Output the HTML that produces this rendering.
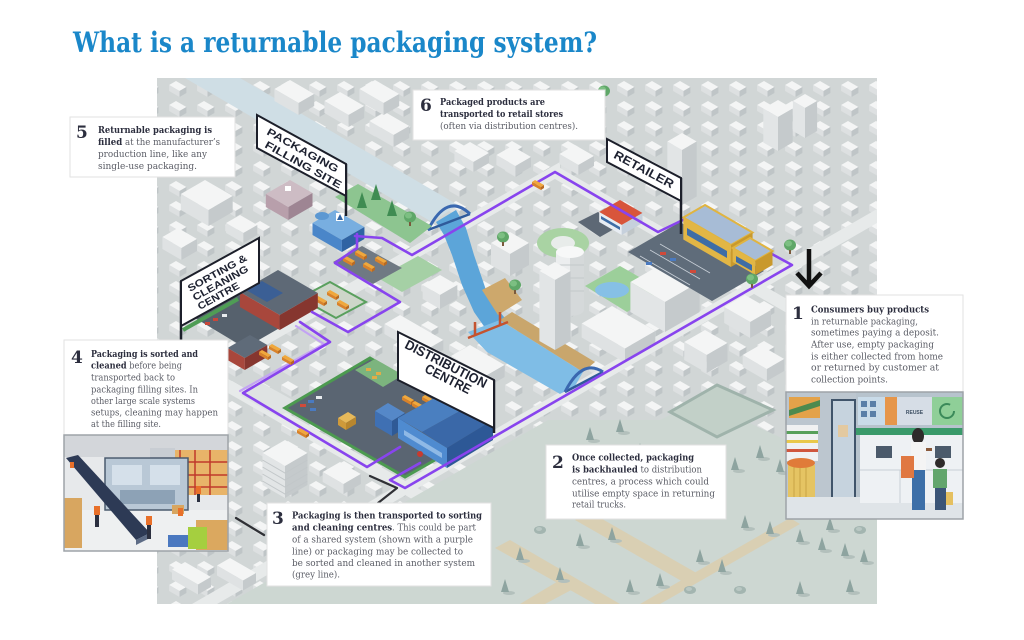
<!DOCTYPE html>
<html><head><meta charset="utf-8">
<style>
html,body{margin:0;padding:0;background:#fff;width:1024px;height:640px;overflow:hidden}
svg{display:block}
.t{font-family:"DejaVu Serif","Liberation Serif",serif;font-size:9.4px;fill:#5b5d66}
.b{font-weight:bold;fill:#2c2e3e}
.n{font-family:"DejaVu Serif","Liberation Serif",serif;font-weight:bold;font-size:17px;fill:#2c2e3e}
.s{font-family:"Liberation Sans","DejaVu Sans",sans-serif;font-weight:bold;fill:#1d2130}
</style></head><body>
<svg width="1024" height="640" viewBox="0 0 1024 640" xmlns="http://www.w3.org/2000/svg">
<defs>
 <pattern id="ph" width="28" height="20" patternUnits="userSpaceOnUse">
  <rect width="28" height="20" fill="#d1d6d6"/>
  <polygon points="8,1 18.4,7 11.5,11 1.1,5" fill="#f4f5f5"/>
  <polygon points="1.1,5 11.5,11 11.5,17 1.1,11" fill="#dde0e1"/>
  <polygon points="11.5,11 18.4,7 18.4,13 11.5,17" fill="#bfc5c7"/>
 </pattern>
 <clipPath id="mc"><rect x="157" y="78" width="720" height="526"/></clipPath>
 <g id="ct"><ellipse cx="4" cy="1" rx="6" ry="2" fill="#b3c0bc"/><polygon points="0,-13 4,0 -4,0" fill="#8ea4a0"/></g>
 <g id="rb"><ellipse cx="0" cy="0" rx="6" ry="4" fill="#a3b5b0"/><ellipse cx="-1" cy="-1" rx="3" ry="2" fill="#b9c8c3"/></g>
 <g id="gt"><ellipse cx="0" cy="-5" rx="6" ry="5.5" fill="#5fa768"/><ellipse cx="-1.5" cy="-6.5" rx="3.5" ry="3" fill="#7cbf82"/><rect x="-1" y="0" width="2" height="4" fill="#7a5a3c"/></g>
 <g id="gc"><polygon points="0,-16 5,0 -5,0" fill="#3f8c52"/></g>
 <g id="tk"><polygon points="0,0 9,5 6,7 -3,2" fill="#f0a83c"/><polygon points="-3,2 6,7 6,10 -3,5" fill="#d9822a"/><polygon points="6,7 9,5 9,8 6,10" fill="#b86a22"/></g>
</defs>

<rect width="1024" height="640" fill="#fff"/>
<text x="73" y="52" font-family="'DejaVu Serif','Liberation Serif',serif" font-weight="bold" font-size="28" fill="#1a87c9" textLength="524" lengthAdjust="spacingAndGlyphs">What is a returnable packaging system?</text>

<g clip-path="url(#mc)">
 <rect x="157" y="78" width="720" height="526" fill="url(#ph)"/>
 <!-- roads -->
 <polygon points="157,394 560,162 560,176 157,408" fill="#e7eaea"/>
 <polygon points="192,604 877,209 877,223 217,604" fill="#e7eaea"/>
 <polygon points="157,338 619,604 594,604 157,352" fill="#e7eaea"/>
 <polygon points="555,165 877,351 877,365 555,179" fill="#e7eaea"/>
 <!-- canal -->
 <polygon points="185,78 240,78 458,205 432,222" fill="#cfdee5"/>
 <!-- park lower right -->
 <polygon points="227,604 548,420 660,420 700,400 786,440 877,519 877,604" fill="#cdd7d2"/>
 <polygon points="495,548 510,540 620,604 595,604" fill="#d9cfb3"/>
 <polygon points="575,520 590,512 700,575 685,583" fill="#d9cfb3"/>
 <polygon points="640,604 790,518 800,524 660,604" fill="#d9cfb3"/>
 <polygon points="520,604 560,580 575,588 545,604" fill="#d9cfb3"/>
 <polygon points="717,385 773,410 717,437 670,412" fill="#c2d0c8" stroke="#9fb3ab" stroke-width="3"/>
 <!-- top-left blocks -->
 <polygon points="205,180 232.7,196 208.5,210 180.8,194" fill="#f4f5f5"/><polygon points="180.8,194 208.5,210 208.5,226 180.8,210" fill="#dfe2e3"/><polygon points="208.5,210 232.7,196 232.7,212 208.5,226" fill="#c5cacc"/>
 <polygon points="178,228 197,239 181.4,248 162.4,237" fill="#f4f5f5"/><polygon points="162.4,237 181.4,248 181.4,260 162.4,249" fill="#dfe2e3"/><polygon points="181.4,248 197,239 197,251 181.4,260" fill="#c5cacc"/>
 <polygon points="240,215 257.3,225 243.4,233 226.1,223" fill="#f4f5f5"/><polygon points="226.1,223 243.4,233 243.4,243 226.1,233" fill="#dfe2e3"/><polygon points="243.4,233 257.3,225 257.3,235 243.4,243" fill="#c5cacc"/>
 <!-- above canal -->
 <polygon points="290,80 314.2,94 298.6,103 274.4,89" fill="#f4f5f5"/><polygon points="274.4,89 298.6,103 298.6,115 274.4,101" fill="#dfe2e3"/><polygon points="298.6,103 314.2,94 314.2,106 298.6,115" fill="#c5cacc"/>
 <polygon points="340,92 364.2,106 348.6,115 324.4,101" fill="#f4f5f5"/><polygon points="324.4,101 348.6,115 348.6,127 324.4,113" fill="#dfe2e3"/><polygon points="348.6,115 364.2,106 364.2,118 348.6,127" fill="#c5cacc"/>
 <polygon points="385,112 409.2,126 393.6,135 369.4,121" fill="#f4f5f5"/><polygon points="369.4,121 393.6,135 393.6,147 369.4,133" fill="#dfe2e3"/><polygon points="393.6,135 409.2,126 409.2,138 393.6,147" fill="#c5cacc"/>
 <polygon points="375,80 399.2,94 383.6,103 359.4,89" fill="#f4f5f5"/><polygon points="359.4,89 383.6,103 383.6,115 359.4,101" fill="#dfe2e3"/><polygon points="383.6,103 399.2,94 399.2,106 383.6,115" fill="#c5cacc"/>
 <!-- below box 6 -->
 <polygon points="470,142 489,153 473.4,162 454.4,151" fill="#f4f5f5"/><polygon points="454.4,151 473.4,162 473.4,172 454.4,161" fill="#dfe2e3"/><polygon points="473.4,162 489,153 489,163 473.4,172" fill="#c5cacc"/>
 <polygon points="512,146 531,157 515.4,166 496.4,155" fill="#f4f5f5"/><polygon points="496.4,155 515.4,166 515.4,176 496.4,165" fill="#dfe2e3"/><polygon points="515.4,166 531,157 531,167 515.4,176" fill="#c5cacc"/>
 <polygon points="575,145 594,156 578.4,165 559.4,154" fill="#f4f5f5"/><polygon points="559.4,154 578.4,165 578.4,175 559.4,164" fill="#dfe2e3"/><polygon points="578.4,165 594,156 594,166 578.4,175" fill="#c5cacc"/>
 <!-- top right towers -->
 <polygon points="778,100 792.7,108.5 778,117 763.3,108.5" fill="#f4f5f5"/><polygon points="763.3,108.5 778,117 778,151 763.3,142.5" fill="#e2e5e6"/><polygon points="778,117 792.7,108.5 792.7,142.5 778,151" fill="#c5cacc"/>
 <polygon points="805,94 817.1,101 805,108 792.9,101" fill="#f4f5f5"/><polygon points="792.9,101 805,108 805,138 792.9,131" fill="#e2e5e6"/><polygon points="805,108 817.1,101 817.1,131 805,138" fill="#c5cacc"/>
 <polygon points="682,133 696.7,141.5 682,150 667.3,141.5" fill="#f4f5f5"/><polygon points="667.3,141.5 682,150 682,205 667.3,196.5" fill="#e2e5e6"/><polygon points="682,150 696.7,141.5 696.7,196.5 682,205" fill="#c5cacc"/>
 <!-- right middle blocks -->
 <polygon points="745,295 771,310 750.2,322 724.2,307" fill="#f4f5f5"/><polygon points="724.2,307 750.2,322 750.2,338 724.2,323" fill="#dfe2e3"/><polygon points="750.2,322 771,310 771,326 750.2,338" fill="#c5cacc"/>
 <polygon points="705,330 727.5,343 706.7,355 684.2,342" fill="#f4f5f5"/><polygon points="684.2,342 706.7,355 706.7,373 684.2,360" fill="#dfe2e3"/><polygon points="706.7,355 727.5,343 727.5,361 706.7,373" fill="#c5cacc"/>
 <polygon points="760,345 784.2,359 766.9,369 742.7,355" fill="#f4f5f5"/><polygon points="742.7,355 766.9,369 766.9,381 742.7,367" fill="#dfe2e3"/><polygon points="766.9,369 784.2,359 784.2,371 766.9,381" fill="#c5cacc"/>

 <!-- river & water -->
 <polygon points="436,222 456,210 466,228 474,255 486,290 500,312 508,322 488,332 474,312 462,285 452,255 444,235" fill="#5ca5d9"/>
 <polygon points="468,332 500,320 583,372 575,386 560,394 487,352" fill="#7fbde6"/>
 <polygon points="500,320 512,312 595,362 583,372" fill="#c9a66c"/>
 <polygon points="482,290 505,278 522,300 498,315" fill="#cda86c"/>

 <!-- central city -->
 <ellipse cx="563" cy="243" rx="26" ry="15" fill="#a9d3a3"/>
 <ellipse cx="563" cy="243" rx="12" ry="7" fill="#e8ecea"/>
 <polygon points="585,286 620,266 662,290 627,312" fill="#9ccf9a"/>
 <ellipse cx="612" cy="290" rx="17" ry="8" fill="#86c0e6"/>
 <polygon points="510,232 529,243 510,254 491,243" fill="#f4f5f5"/><polygon points="491,243 510,254 510,276 491,265" fill="#dfe2e3"/><polygon points="510,254 529,243 529,265 510,276" fill="#c5cacc"/>
 <polygon points="440,275 457.3,285 440,295 422.7,285" fill="#f4f5f5"/><polygon points="422.7,285 440,295 440,309 422.7,299" fill="#dfe2e3"/><polygon points="440,295 457.3,285 457.3,299 440,309" fill="#c5cacc"/>
 <rect x="556" y="252" width="28" height="58" fill="#eceeef"/>
 <rect x="570" y="252" width="14" height="58" fill="#d5d9da"/>
 <ellipse cx="570" cy="252" rx="14" ry="6" fill="#f7f8f8"/>
 <ellipse cx="570" cy="310" rx="14" ry="6" fill="#d5d9da"/>
 <g stroke="#c4c9cb" stroke-width="1"><line x1="556" y1="265" x2="584" y2="265"/><line x1="556" y1="278" x2="584" y2="278"/><line x1="556" y1="291" x2="584" y2="291"/></g>
 <polygon points="555,262 570.6,271 555,280 539.4,271" fill="#f4f5f5"/><polygon points="539.4,271 555,280 555,350 539.4,341" fill="#e2e5e6"/><polygon points="555,280 570.6,271 570.6,341 555,350" fill="#c5cacc"/>
 <polygon points="665,262 699.6,282 665,302 630.4,282" fill="#f4f5f5"/><polygon points="630.4,282 665,302 665,332 630.4,312" fill="#e2e5e6"/><polygon points="665,302 699.6,282 699.6,312 665,332" fill="#c5cacc"/>
 <polygon points="612,306 655.3,331 625,348.5 581.7,323.5" fill="#f4f5f5"/><polygon points="581.7,323.5 625,348.5 625,362.5 581.7,337.5" fill="#dfe2e3"/><polygon points="625,348.5 655.3,331 655.3,345 625,362.5" fill="#c5cacc"/>
 <polygon points="400,315 443.3,340 427.7,349 384.4,324" fill="#f4f5f5"/><polygon points="384.4,324 427.7,349 427.7,359 384.4,334" fill="#dfe2e3"/><polygon points="427.7,349 443.3,340 443.3,350 427.7,359" fill="#c5cacc"/>
 <polygon points="470,345 504.6,365 485.6,376 451,356" fill="#f4f5f5"/><polygon points="451,356 485.6,376 485.6,388 451,368" fill="#dfe2e3"/><polygon points="485.6,376 504.6,365 504.6,377 485.6,388" fill="#c5cacc"/>
 <!-- bridges -->
 <path d="M428,230 L470,214" stroke="#2f5a9a" stroke-width="2.5"/>
 <path d="M428,230 Q447,192 470,214" stroke="#3a68b0" stroke-width="3" fill="none"/>
 <path d="M565,392 L603,372" stroke="#2f5a9a" stroke-width="2.5"/>
 <path d="M565,392 Q582,358 603,372" stroke="#3a68b0" stroke-width="3" fill="none"/>
 <path d="M468,338 L508,322 M475,335 V322 M500,325 V312" stroke="#c4532f" stroke-width="2.5" fill="none"/>

 <!-- filling site -->
 <polygon points="335,197 358,184 432,226 410,243" fill="#8dc590"/>
 <polygon points="378,278 418,256 442,270 402,292" fill="#a5d0a5"/>
 <polygon points="290,180 312.5,193 288.3,207 265.8,194" fill="#cdbcc4"/><polygon points="265.8,194 288.3,207 288.3,220 265.8,207" fill="#b89fab"/><polygon points="288.3,207 312.5,193 312.5,206 288.3,220" fill="#9e8593"/>
 <rect x="285" y="186" width="6" height="5" fill="#fff"/>
 <polygon points="333,262 362,246 402,268 373,284" fill="#6f7983"/>
 <use href="#tk" x="346" y="256"/><use href="#tk" x="358" y="250"/><use href="#tk" x="366" y="262"/><use href="#tk" x="378" y="256"/>
 <polygon points="335,210 364.4,227 341.9,240 312.5,223" fill="#78aee0"/><polygon points="312.5,223 341.9,240 341.9,252 312.5,235" fill="#4a86c9"/><polygon points="341.9,240 364.4,227 364.4,239 341.9,252" fill="#2f63a3"/>
 <ellipse cx="322" cy="216" rx="7" ry="4" fill="#5c98d2"/>
 <rect x="336" y="213" width="8" height="8" fill="#fff"/><polygon points="340,214 343,220 337,220" fill="#2f63a3"/>
 <use href="#gc" x="362" y="208"/><use href="#gc" x="376" y="200"/><use href="#gc" x="392" y="216"/><use href="#gt" x="410" y="222"/>

 <!-- sorting centre -->
 <polygon points="195,318 240,293 290,322 245,348" fill="#56616d"/>
 <line x1="183" y1="330" x2="238" y2="299" stroke="#4f9d55" stroke-width="4"/>
 <g fill="#c8473a"><rect x="205" y="322" width="5" height="3"/><rect x="213" y="318" width="5" height="3"/></g>
 <rect x="222" y="314" width="5" height="3" fill="#e8ecef"/>
 <polygon points="300,298 330,282 366,302 336,318" fill="#cdd6c9" stroke="#5aa05e" stroke-width="2"/>
 <use href="#tk" x="318" y="296"/><use href="#tk" x="330" y="290"/><use href="#tk" x="340" y="300"/>
 <polygon points="278,270 317.8,293 279.7,315 239.9,292" fill="#5e6976"/>
 <polygon points="246,290 262,281 283,293 267,302" fill="#3b5f95"/>
 <polygon points="239.9,292 279.7,315 279.7,330 239.9,307" fill="#a8473c"/><polygon points="279.7,315 317.8,293 317.8,308 279.7,330" fill="#86362f"/>
 <polygon points="250,335 267.3,345 244.8,358 227.5,348" fill="#5f6b79"/><polygon points="227.5,348 244.8,358 244.8,370 227.5,360" fill="#a8473c"/><polygon points="244.8,358 267.3,345 267.3,357 244.8,370" fill="#86362f"/>
 <use href="#tk" x="262" y="350"/><use href="#tk" x="272" y="344"/>
 <polygon points="240,395 262,383 300,404 278,417" fill="#dfe3e3"/>

 <!-- distribution centre -->
 <polygon points="370,358 491,428 405,477 285,408" fill="#5a6572" stroke="#4c9a50" stroke-width="3"/>
 <polygon points="355,370 375,359 403,375 383,387" fill="#7cb47e"/>
 <g fill="#e0ad48"><rect x="366" y="368" width="5" height="3"/><rect x="376" y="372" width="5" height="3"/><rect x="372" y="376" width="5" height="3"/></g>
 <g><rect x="300" y="404" width="6" height="3" fill="#d04a3a"/><rect x="308" y="400" width="6" height="3" fill="#4a7ac0"/><rect x="316" y="396" width="6" height="3" fill="#e8ecef"/><rect x="310" y="408" width="6" height="3" fill="#4a7ac0"/></g>
 <polygon points="338,418 348,412 356,417 346,423" fill="#e7b95a"/><polygon points="338,418 346,423 346,430 338,425" fill="#cf9a3a"/><polygon points="346,423 356,417 356,424 346,430" fill="#b8862e"/>
 <use href="#tk" x="405" y="395"/><use href="#tk" x="415" y="401"/><use href="#tk" x="425" y="395"/><use href="#tk" x="432" y="405"/>
 <polygon points="388,403 405,413 392,421 375,411" fill="#5588c8"/><polygon points="375,411 392,421 392,436 375,426" fill="#3f70b3"/><polygon points="392,421 405,413 405,428 392,436" fill="#2f5a96"/>
 <polygon points="398,418 445,392 469,406 422,432" fill="#4a7fc0"/>
 <polygon points="422,432 469,406 493,420 447,448" fill="#3a68a8"/>
 <polygon points="398,418 447,448 447,468 398,438" fill="#4f8bd0"/>
 <polygon points="447,448 493,420 493,440 447,468" fill="#2d5896"/>
 <polygon points="404,430 442,453 442,458 404,435" fill="#8fb9e6"/>
 <circle cx="420" cy="454" r="3" fill="#c83a2e"/>

 <!-- white buildings lower left -->
 <polygon points="285,440 307.5,453 285,466 262.5,453" fill="#f4f5f5"/><polygon points="262.5,453 285,466 285,498 262.5,485" fill="#e2e5e6"/><polygon points="285,466 307.5,453 307.5,485 285,498" fill="#c5cacc"/>
 <g stroke="#c2c7c9" stroke-width="1"><path d="M262.5,460 L285,473 L307.5,460 M262.5,467 L285,480 L307.5,467 M262.5,474 L285,487 L307.5,474 M262.5,481 L285,494 L307.5,481" fill="none"/></g>
 <polygon points="340,462 360.8,474 343.5,484 322.7,472" fill="#f4f5f5"/><polygon points="322.7,472 343.5,484 343.5,494 322.7,482" fill="#dfe2e3"/><polygon points="343.5,484 360.8,474 360.8,484 343.5,494" fill="#c5cacc"/>
 <polygon points="230,558 256,573 243,580.5 217,565.5" fill="#f4f5f5"/><polygon points="217,565.5 243,580.5 243,590.5 217,575.5" fill="#dfe2e3"/><polygon points="243,580.5 256,573 256,583 243,590.5" fill="#c5cacc"/>
 <polygon points="185,562 211,577 198,584.5 172,569.5" fill="#f4f5f5"/><polygon points="172,569.5 198,584.5 198,594.5 172,579.5" fill="#dfe2e3"/><polygon points="198,584.5 211,577 211,587 198,594.5" fill="#c5cacc"/>

 <!-- retail -->
 <polygon points="578,222 598,212 621,225 600,237" fill="#5d6875"/>
 <polygon points="620,200 642.5,213 621.7,225 599.2,212" fill="#d8553b"/><polygon points="599.2,212 621.7,225 621.7,235 599.2,222" fill="#e8edf3"/><polygon points="621.7,225 642.5,213 642.5,223 621.7,235" fill="#c6d0dc"/>
 <polygon points="601,216 620,227 620,230 601,219" fill="#3e6da6"/>
 <polygon points="680,222 764,271 712,301 628,252" fill="#5f6c7a"/>
 <g stroke="#c9d0d8" stroke-width="0.8"><path d="M650,250 L700,279 M660,244 L710,273 M640,256 L690,285" fill="none"/></g>
 <g><rect x="660" y="252" width="6" height="3" fill="#d04a3a"/><rect x="670" y="258" width="6" height="3" fill="#4a7ac0"/><rect x="690" y="270" width="6" height="3" fill="#d04a3a"/><rect x="646" y="262" width="6" height="3" fill="#4a7ac0"/></g>

 <!-- route lines -->
 <g fill="none" stroke-linejoin="round" stroke-linecap="round">
  <path d="M296,326 L324,344 L240,391" stroke="#c3a3f3" stroke-width="2.2"/>
  <path d="M355,236 L382,238 L412,255 L555,172 L658,232 L687,218 L770,253 L792,265 L405,488 L390,480 L420,463" stroke="#8844ee" stroke-width="2.6"/>
  <path d="M357,234 L357,248 L335,263 L400,302 L348,332 L312,312" stroke="#8844ee" stroke-width="2.6"/>
  <path d="M300,322 L330,342 L243,393 L367,467 L400,447" stroke="#8844ee" stroke-width="2.6"/>
  <path d="M370,476 L397,488 L378,503" stroke="#2f3035" stroke-width="2.2"/>
  <path d="M236,518 L264,535" stroke="#2f3035" stroke-width="2.2"/>
 </g>
 <use href="#tk" x="535" y="180"/><use href="#tk" x="300" y="428"/><use href="#tk" x="285" y="355"/>

 <!-- yellow store over line -->
 <polygon points="705,205 752.6,232.5 730.9,245 683.3,217.5" fill="#a7bcd6" stroke="#e0b440" stroke-width="2"/>
 <polygon points="683.3,217.5 730.9,245 730.9,267 683.3,239.5" fill="#e2b645"/><polygon points="730.9,245 752.6,232.5 752.6,254.5 730.9,267" fill="#c9992c"/>
 <polygon points="687,228 727,251 727,258 687,235" fill="#3e6da6"/>
 <polygon points="750,238 772.5,251 755.2,261 732.7,248" fill="#a7bcd6" stroke="#e0b440" stroke-width="2"/>
 <polygon points="732.7,248 755.2,261 755.2,275 732.7,262" fill="#e2b645"/><polygon points="755.2,261 772.5,251 772.5,265 755.2,275" fill="#c9992c"/>
 <polygon points="736,256 752,265 752,271 736,262" fill="#3e6da6"/>
 <use href="#gt" x="790" y="250"/><use href="#gt" x="752" y="284"/><use href="#gt" x="503" y="242"/><use href="#gt" x="515" y="290"/><use href="#gt" x="604" y="96"/>

 <!-- park trees -->
 <use href="#ct" x="590" y="440"/><use href="#ct" x="620" y="432"/><use href="#ct" x="640" y="456"/><use href="#ct" x="735" y="470"/><use href="#ct" x="760" y="458"/><use href="#ct" x="780" y="472"/>
 <use href="#ct" x="745" y="528"/><use href="#ct" x="770" y="534"/><use href="#ct" x="800" y="542"/><use href="#ct" x="822" y="550"/><use href="#ct" x="845" y="556"/><use href="#ct" x="864" y="562"/>
 <use href="#ct" x="700" y="562"/><use href="#ct" x="722" y="572"/><use href="#ct" x="660" y="586"/><use href="#ct" x="630" y="592"/><use href="#ct" x="560" y="580"/><use href="#ct" x="520" y="560"/>
 <use href="#ct" x="505" y="592"/><use href="#ct" x="580" y="546"/><use href="#ct" x="612" y="540"/><use href="#ct" x="850" y="592"/><use href="#ct" x="800" y="594"/><use href="#ct" x="830" y="530"/>
 <use href="#rb" x="690" y="590"/><use href="#rb" x="740" y="590"/><use href="#rb" x="600" y="470"/><use href="#rb" x="660" y="475"/><use href="#rb" x="540" y="530"/><use href="#rb" x="860" y="530"/>

 <!-- signs -->
 <line x1="346" y1="164" x2="346" y2="216" stroke="#1c1f2a" stroke-width="2.5"/>
 <polygon points="257,115 346,164 346,196 257,148" fill="#fff" stroke="#1c1f2a" stroke-width="2"/>
 <text class="s" font-size="10.5" transform="translate(266,134) rotate(29)" textLength="80" lengthAdjust="spacingAndGlyphs">PACKAGING</text>
 <text class="s" font-size="10.5" transform="translate(264,147) rotate(29)" textLength="86" lengthAdjust="spacingAndGlyphs">FILLING SITE</text>

 <line x1="181" y1="281" x2="181" y2="340" stroke="#1c1f2a" stroke-width="2.5"/>
 <polygon points="181,281 259,238 259,283 181,326" fill="#fff" stroke="#1c1f2a" stroke-width="2"/>
 <text class="s" font-size="10" transform="translate(190,292) rotate(-29)" textLength="66" lengthAdjust="spacingAndGlyphs">SORTING &amp;</text>
 <text class="s" font-size="10" transform="translate(195,301) rotate(-29)" textLength="62" lengthAdjust="spacingAndGlyphs">CLEANING</text>
 <text class="s" font-size="10" transform="translate(200,310) rotate(-29)" textLength="46" lengthAdjust="spacingAndGlyphs">CENTRE</text>

 <line x1="681" y1="178" x2="681" y2="234" stroke="#1c1f2a" stroke-width="2.5"/>
 <polygon points="607,139 681,178 681,201 607,162" fill="#fff" stroke="#1c1f2a" stroke-width="2"/>
 <text class="s" font-size="12" text-anchor="middle" transform="translate(642,173) rotate(28)" textLength="66" lengthAdjust="spacingAndGlyphs">RETAILER</text>

 <line x1="494" y1="380" x2="494" y2="433" stroke="#1c1f2a" stroke-width="2.5"/>
 <polygon points="398,332 494,380 494,428 398,380" fill="#fff" stroke="#1c1f2a" stroke-width="2"/>
 <text class="s" font-size="13.5" text-anchor="middle" transform="translate(444,368) rotate(27)" textLength="90" lengthAdjust="spacingAndGlyphs">DISTRIBUTION</text>
 <text class="s" font-size="13.5" text-anchor="middle" transform="translate(446,383) rotate(27)" textLength="50" lengthAdjust="spacingAndGlyphs">CENTRE</text>
</g>

<!-- arrow -->
<path d="M809,249 V285 M797,273 L809,286 L821,273" stroke="#111" stroke-width="4.5" fill="none"/>

<!-- Box 5 -->
<rect x="70" y="117" width="165" height="60" fill="#fff" stroke="#e2e2e2"/>
<text class="n" x="76" y="138">5</text>
<text class="t b" x="98" y="133" textLength="114" lengthAdjust="spacingAndGlyphs">Returnable packaging is</text>
<text class="t" x="98" y="145" textLength="122" lengthAdjust="spacingAndGlyphs"><tspan class="b">filled</tspan> at the manufacturer’s</text>
<text class="t" x="98" y="157" textLength="109" lengthAdjust="spacingAndGlyphs">production line, like any</text>
<text class="t" x="98" y="169" textLength="99" lengthAdjust="spacingAndGlyphs">single-use packaging.</text>

<!-- Box 6 -->
<rect x="413" y="90" width="192" height="50" fill="#fff" stroke="#e2e2e2"/>
<text class="n" x="420" y="111">6</text>
<text class="t b" x="440" y="105" textLength="105" lengthAdjust="spacingAndGlyphs">Packaged products are</text>
<text class="t b" x="440" y="117" textLength="123" lengthAdjust="spacingAndGlyphs">transported to retail stores</text>
<text class="t" x="440" y="129" textLength="138" lengthAdjust="spacingAndGlyphs">(often via distribution centres).</text>

<!-- Box 4 -->
<rect x="64" y="340" width="164" height="211" fill="#fff" stroke="#e2e2e2"/>
<text class="n" x="71" y="363">4</text>
<text class="t b" x="91" y="357" textLength="107" lengthAdjust="spacingAndGlyphs">Packaging is sorted and</text>
<text class="t" x="91" y="368.5" textLength="91" lengthAdjust="spacingAndGlyphs"><tspan class="b">cleaned</tspan> before being</text>
<text class="t" x="91" y="380.5" textLength="84" lengthAdjust="spacingAndGlyphs">transported back to</text>
<text class="t" x="91" y="392.5" textLength="107" lengthAdjust="spacingAndGlyphs">packaging filling sites. In</text>
<text class="t" x="91" y="404" textLength="104" lengthAdjust="spacingAndGlyphs">other large scale systems</text>
<text class="t" x="91" y="415.5" textLength="127" lengthAdjust="spacingAndGlyphs">setups, cleaning may happen</text>
<text class="t" x="91" y="427" textLength="70" lengthAdjust="spacingAndGlyphs">at the filling site.</text>
<g>
 <rect x="64" y="435" width="164" height="116" fill="#e7e9eb"/>
 <rect x="64" y="435" width="164" height="22" fill="#d3d6da"/>
 <rect x="64" y="510" width="164" height="41" fill="#eef0f1"/>
 <rect x="168" y="450" width="60" height="45" fill="#e8b469"/>
 <g stroke="#c0392b" stroke-width="1.5"><path d="M168,462 H228 M168,475 H228 M168,487 H228 M180,450 V495 M195,450 V495 M210,450 V495" fill="none"/></g>
 <rect x="150" y="448" width="25" height="10" fill="#c8cdd3"/>
 <rect x="105" y="458" width="83" height="52" fill="#b9c8d6" stroke="#4a5a6e" stroke-width="1.5"/>
 <rect x="112" y="465" width="30" height="20" fill="#d5e0ea"/><rect x="150" y="465" width="30" height="20" fill="#d5e0ea"/>
 <rect x="120" y="490" width="55" height="14" fill="#8da2b6"/>
 <polygon points="66,458 78,455 150,533 136,540" fill="#2d3a55"/>
 <polygon points="136,540 150,533 150,538 136,545" fill="#5d6c86"/>
 <rect x="64" y="498" width="18" height="50" fill="#d8a660"/>
 <rect x="196" y="520" width="32" height="30" fill="#dba85f"/>
 <rect x="172" y="505" width="12" height="9" fill="#d8a660"/>
 <rect x="188" y="527" width="19" height="22" fill="#a5cf3f"/>
 <rect x="168" y="535" width="20" height="12" fill="#4a78c0"/>
 <g fill="#e8702a"><rect x="94" y="506" width="6" height="9"/><rect x="146" y="516" width="6" height="9"/><rect x="196" y="486" width="5" height="8"/><rect x="178" y="508" width="5" height="8"/><rect x="70" y="462" width="4" height="6"/></g>
 <g fill="#2b3040"><rect x="95" y="515" width="4" height="12"/><rect x="147" y="525" width="4" height="14"/><rect x="197" y="494" width="3" height="8"/></g>
 <rect x="64" y="435" width="164" height="116" fill="none" stroke="#9ea3a8" stroke-width="1.5"/>
</g>

<!-- Box 3 -->
<rect x="267" y="503" width="224" height="83" fill="#fff" stroke="#e2e2e2"/>
<text class="n" x="272" y="524">3</text>
<text class="t b" x="292" y="518.5" textLength="190" lengthAdjust="spacingAndGlyphs">Packaging is then transported to sorting</text>
<text class="t" x="292" y="530.5" textLength="184" lengthAdjust="spacingAndGlyphs"><tspan class="b">and cleaning centres</tspan>. This could be part</text>
<text class="t" x="292" y="542.5" textLength="181" lengthAdjust="spacingAndGlyphs">of a shared system (shown with a purple</text>
<text class="t" x="292" y="554.5" textLength="171" lengthAdjust="spacingAndGlyphs">line) or packaging may be collected to</text>
<text class="t" x="292" y="566" textLength="183" lengthAdjust="spacingAndGlyphs">be sorted and cleaned in another system</text>
<text class="t" x="292" y="577.5" textLength="48" lengthAdjust="spacingAndGlyphs">(grey line).</text>

<!-- Box 2 -->
<rect x="546" y="445" width="180" height="74" fill="#fff" stroke="#e2e2e2"/>
<text class="n" x="552" y="468">2</text>
<text class="t b" x="572" y="460.5" textLength="122" lengthAdjust="spacingAndGlyphs">Once collected, packaging</text>
<text class="t" x="572" y="472.5" textLength="130" lengthAdjust="spacingAndGlyphs"><tspan class="b">is backhauled</tspan> to distribution</text>
<text class="t" x="572" y="484.5" textLength="137" lengthAdjust="spacingAndGlyphs">centres, a process which could</text>
<text class="t" x="572" y="496.5" textLength="143" lengthAdjust="spacingAndGlyphs">utilise empty space in returning</text>
<text class="t" x="572" y="507.5" textLength="54" lengthAdjust="spacingAndGlyphs">retail trucks.</text>

<!-- Box 1 -->
<rect x="786" y="295" width="177" height="224" fill="#fff" stroke="#e2e2e2"/>
<text class="n" x="792" y="319">1</text>
<text class="t b" x="811" y="312.5" textLength="118" lengthAdjust="spacingAndGlyphs">Consumers buy products</text>
<text class="t" x="811" y="324.5" textLength="107" lengthAdjust="spacingAndGlyphs">in returnable packaging,</text>
<text class="t" x="811" y="335.5" textLength="128" lengthAdjust="spacingAndGlyphs">sometimes paying a deposit.</text>
<text class="t" x="811" y="347.5" textLength="123" lengthAdjust="spacingAndGlyphs">After use, empty packaging</text>
<text class="t" x="811" y="359.5" textLength="132" lengthAdjust="spacingAndGlyphs">is either collected from home</text>
<text class="t" x="811" y="370.5" textLength="128" lengthAdjust="spacingAndGlyphs">or returned by customer at</text>
<text class="t" x="811" y="382.5" textLength="77" lengthAdjust="spacingAndGlyphs">collection points.</text>
<g>
 <rect x="786" y="392" width="177" height="127" fill="#cfd6dd"/>
 <rect x="786" y="392" width="70" height="127" fill="#bcc6cf"/>
 <rect x="789" y="397" width="31" height="21" fill="#e3a24a"/>
 <polygon points="789,410 820,400 820,406 789,416" fill="#4d8a4e"/>
 <rect x="786" y="425" width="32" height="36" fill="#f0f1f2"/>
 <g><rect x="786" y="431" width="32" height="3" fill="#58a05a"/><rect x="786" y="440" width="32" height="3" fill="#e9c84a"/><rect x="786" y="449" width="32" height="3" fill="#d0563d"/></g>
 <rect x="788" y="465" width="27" height="32" fill="#e5c463"/>
 <g stroke="#c9a544" stroke-width="1"><path d="M794,465 V497 M800,465 V497 M806,465 V497" fill="none"/></g>
 <ellipse cx="801" cy="463" rx="14" ry="5" fill="#e07b39"/>
 <rect x="832" y="400" width="23" height="112" fill="#c6d3de" stroke="#40546a" stroke-width="2"/>
 <rect x="838" y="425" width="10" height="12" fill="#e3c9a0"/>
 <rect x="786" y="497" width="177" height="22" fill="#dfe4e8"/>
 <rect x="856" y="392" width="107" height="105" fill="#b7c3cd"/>
 <rect x="858" y="397" width="27" height="28" fill="#c9dbe9"/>
 <g fill="#5a7fa8"><rect x="861" y="401" width="6" height="6"/><rect x="870" y="401" width="6" height="6"/><rect x="861" y="411" width="6" height="6"/><rect x="870" y="411" width="6" height="6"/></g>
 <rect x="885" y="397" width="12" height="28" fill="#e6964b"/>
 <rect x="897" y="397" width="35" height="28" fill="#d6dde6"/>
 <text x="914.5" y="414" font-family="'Liberation Sans',sans-serif" font-size="5" font-weight="bold" fill="#3d4f63" text-anchor="middle">REUSE</text>
 <rect x="932" y="397" width="31" height="28" fill="#8fcf98"/>
 <circle cx="947" cy="411" r="7" fill="none" stroke="#3b8a5a" stroke-width="2" stroke-dasharray="36 8"/>
 <rect x="856" y="428" width="107" height="7" fill="#3a9a6a"/>
 <rect x="860" y="435" width="103" height="68" fill="#eef1f4"/>
 <rect x="876" y="446" width="16" height="12" fill="#4b5a6b"/><rect x="935" y="446" width="16" height="12" fill="#4b5a6b"/>
 <g stroke="#c8cfd6" stroke-width="1"><path d="M860,470 H963 M900,470 V503" fill="none"/></g>
 <ellipse cx="918" cy="436" rx="6" ry="8" fill="#2e2a2a"/>
 <rect x="911" y="442" width="15" height="28" fill="#f4f4f4"/>
 <rect x="912" y="470" width="13" height="40" fill="#3d6fa8"/>
 <rect x="901" y="456" width="13" height="22" fill="#e07842"/>
 <rect x="926" y="448" width="6" height="3" fill="#8a5a3c"/>
 <circle cx="940" cy="463" r="5" fill="#2e2a2a"/>
 <rect x="933" y="469" width="14" height="19" fill="#63a66d"/>
 <rect x="935" y="488" width="11" height="22" fill="#3b5577"/>
 <rect x="946" y="492" width="7" height="13" fill="#e5c060"/>
 <rect x="786" y="392" width="177" height="127" fill="none" stroke="#9ea3a8" stroke-width="1.5"/>
</g>
</svg>
</body></html>
